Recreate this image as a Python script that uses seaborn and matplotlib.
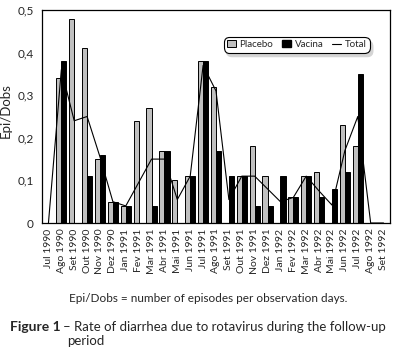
import numpy as np
import pandas as pd
import matplotlib
matplotlib.use("Agg")
import matplotlib.pyplot as plt
import seaborn as sns
from matplotlib.patches import Patch
from matplotlib.lines import Line2D

months = ["Jul 1990", "Ago 1990", "Set 1990", "Out 1990", "Nov 1990", "Dez 1990",
          "Jan 1991", "Fev 1991", "Mar 1991", "Abr 1991", "Mai 1991", "Jun 1991",
          "Jul 1991", "Ago 1991", "Set 1991", "Out 1991", "Nov 1991", "Dez 1991",
          "Jan 1992", "Fev 1992", "Mar 1992", "Abr 1992", "Mai 1992", "Jun 1992",
          "Jul 1992", "Ago 1992", "Set 1992"]
placebo = [0, 0.34, 0.48, 0.41, 0.15, 0.05, 0.04, 0.24, 0.27, 0.17, 0.10, 0.11,
           0.38, 0.32, 0, 0.11, 0.18, 0.11, 0, 0.06, 0.11, 0.12, 0, 0.23, 0.18, 0, 0]
vacina = [0, 0.38, 0, 0.11, 0.16, 0.05, 0.04, 0, 0.04, 0.17, 0, 0.11,
          0.38, 0.17, 0.11, 0.11, 0.04, 0.04, 0.11, 0.06, 0.11, 0.06, 0.08, 0.12, 0.35, 0, 0]
total = [0, 0.36, 0.24, 0.25, 0.155, 0.05, 0.04, 0.095, 0.15, 0.15, 0.055, 0.11,
         0.37, 0.31, 0.055, 0.11, 0.11, 0.08, 0.05, 0.06, 0.11, 0.075, 0.042, 0.17, 0.25, 0, 0]
yticks = [0, 0.1, 0.2, 0.3, 0.4, 0.5]
ytick_labels = ["0", "0,1", "0,2", "0,3", "0,4", "0,5"]

sns.set_style("white")
plt.rcParams["font.family"] = ["Lato", "DejaVu Sans"]

df = pd.DataFrame({
    "Mes": months * 2,
    "Valor": placebo + vacina,
    "Grupo": ["Placebo"] * len(months) + ["Vacina"] * len(months),
})

fig = plt.figure(figsize=(3.94, 3.56), dpi=100)
ax = fig.add_axes([42 / 394, 1 - 223 / 356, 348 / 394, 213 / 356])

sns.barplot(data=df, x="Mes", y="Valor", hue="Grupo", order=months,
            palette={"Placebo": "#c0c0c0", "Vacina": "#000000"},
            edgecolor="black", linewidth=0.7, width=0.8, ax=ax, legend=False)
sns.lineplot(x=np.arange(len(months)), y=total, color="black", linewidth=0.8, ax=ax)

ax.set_xlim(-0.5, len(months) - 0.5)
ax.set_ylim(0, 0.5)
ax.set_yticks(yticks)
ax.set_yticklabels(ytick_labels, fontsize=8.5)
ax.set_xticks(np.arange(len(months)))
ax.set_xticklabels(months, rotation=90, fontsize=7.5)
ax.tick_params(axis="y", length=3, width=0.8, color="black", pad=3)
ax.tick_params(axis="x", length=0, pad=4)
ax.set_xlabel("")
ax.set_ylabel("Epi/Dobs", fontsize=9.5)
ax.yaxis.set_label_coords(-30 / 348, 0.53)
for s in ax.spines.values():
    s.set_color("black")
    s.set_linewidth(0.9)

handles = [Patch(facecolor="#c0c0c0", edgecolor="black", linewidth=0.7),
           Patch(facecolor="black", edgecolor="black"),
           Line2D([0], [0], color="black", linewidth=0.8)]
leg = ax.legend(handles, ["Placebo", "Vacina", "Total"], ncol=3,
                loc="upper right", bbox_to_anchor=(0.943, 0.875),
                fontsize=7, frameon=True, fancybox=True,
                shadow={"color": "#d4d4d4", "alpha": 1, "ox": 2, "oy": -3},
                handlelength=0.9, handleheight=0.8, handletextpad=0.4,
                columnspacing=0.9, borderpad=0.35, borderaxespad=0)
frame = leg.get_frame()
frame.set_edgecolor("black")
frame.set_linewidth(0.8)
frame.set_boxstyle("round,pad=0,rounding_size=0.6")

fig.text(208 / 394, 1 - 299 / 356, "Epi/Dobs = number of episodes per observation days.",
         ha="center", va="center", fontsize=8.5)
fig.text(10 / 394, 1 - 327 / 356, "Figure 1", ha="left", va="center",
         fontsize=10, fontweight="bold")
fig.text(63 / 394, 1 - 327 / 356, "\u2013 Rate of diarrhea due to rotavirus during the follow-up",
         ha="left", va="center", fontsize=9.5)
fig.text(67 / 394, 1 - 341 / 356, "period", ha="left", va="center", fontsize=9.5)

fig.savefig("out.png", dpi=100)
